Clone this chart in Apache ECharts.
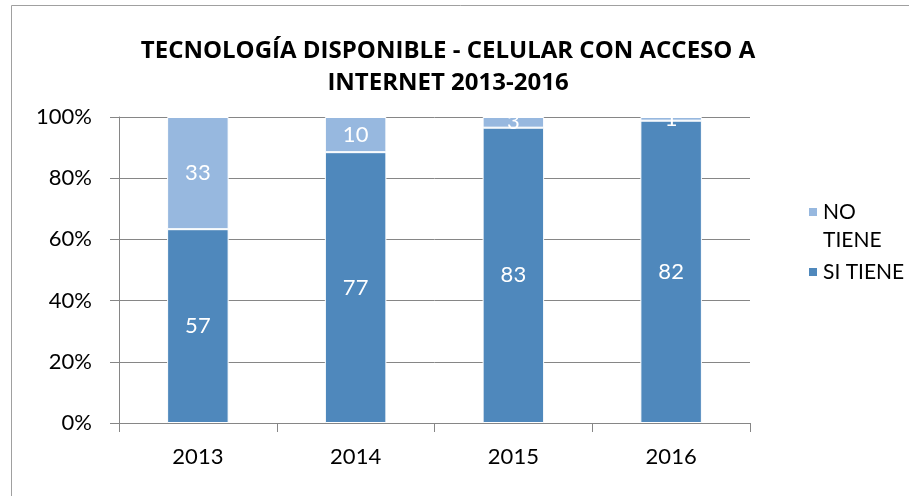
<!DOCTYPE html>
<html>
<head>
<meta charset="utf-8">
<script src="https://cdn.jsdelivr.net/npm/echarts@6/dist/echarts.min.js"></script>
<style>
  html, body { margin: 0; padding: 0; background: #fff; }
  #chart { width: 909px; height: 496px; }
</style>
</head>
<body>
<div id="chart"></div>
<script>
// datos
const years = ['2013', '2014', '2015', '2016']
const siTiene = [57, 77, 83, 82]
const noTiene = [33, 10, 3, 1]
const yTicks = [0, 20, 40, 60, 80, 100]

// porcentaje por año (100% apilado)
const totals = years.map((y, i) => siTiene[i] + noTiene[i])
const pct = (arr) => arr.map((v, i) => ({ value: v / totals[i] * 100, raw: v }))

const font = 'Lato, "Open Sans", sans-serif'
const chart = echarts.init(document.getElementById('chart'))

const option = {
  animation: false,
  title: {
    text: 'TECNOLOGÍA DISPONIBLE - CELULAR CON ACCESO A\nINTERNET 2013-2016',
    left: 443,
    textAlign: 'center',
    top: 30,
    textStyle: {
      fontFamily: '"Open Sans", sans-serif',
      fontWeight: 'bold',
      fontSize: 24,
      lineHeight: 32,
      color: '#000'
    }
  },
  legend: {
    orient: 'vertical',
    left: 802,
    top: 165,
    itemWidth: 10,
    itemHeight: 10,
    itemGap: 4,
    icon: 'rect',
    data: ['NO TIENE', 'SI TIENE'],
    // "NO TIENE" en dos líneas; la línea vacía arriba deja el cuadro junto a "NO"
    formatter: (name) => name === 'NO TIENE' ? ' \nNO\nTIENE' : name,
    textStyle: { fontFamily: font, fontSize: 21, lineHeight: 28, color: '#000' }
  },
  grid: { left: 119, right: 159, top: 117, bottom: 73 },
  xAxis: {
    type: 'category',
    data: years,
    axisLine: { lineStyle: { color: '#868686', width: 1 } },
    axisTick: { show: true, length: 9, lineStyle: { color: '#868686' } },
    axisLabel: { fontFamily: font, fontSize: 22, color: '#000', margin: 23 }
  },
  yAxis: {
    type: 'value',
    min: yTicks[0],
    max: yTicks[yTicks.length - 1],
    interval: 20,
    axisLine: { show: true, lineStyle: { color: '#868686' } },
    axisTick: { show: true, length: 9, lineStyle: { color: '#868686' } },
    splitLine: { lineStyle: { color: '#868686', width: 1 } },
    axisLabel: { fontFamily: font, fontSize: 22, color: '#000', margin: 27, formatter: '{value}%' }
  },
  series: [
    {
      name: 'SI TIENE',
      type: 'bar',
      stack: 'total',
      barWidth: '39%',
      data: pct(siTiene),
      itemStyle: { color: '#4F88BC', borderColor: '#fff', borderWidth: 1 },
      label: {
        show: true,
        position: 'inside',
        color: '#fff',
        fontFamily: font,
        fontSize: 22,
        formatter: (p) => p.data.raw
      }
    },
    {
      name: 'NO TIENE',
      type: 'bar',
      stack: 'total',
      data: pct(noTiene),
      itemStyle: { color: '#97B8DF', borderColor: '#fff', borderWidth: 1 },
      label: {
        show: true,
        position: 'inside',
        color: '#fff',
        fontFamily: font,
        fontSize: 22,
        formatter: (p) => p.data.raw
      }
    }
  ],
  graphic: [
    {
      type: 'rect',
      shape: { x: 11.5, y: 5.5, width: 920, height: 520 },
      style: { fill: 'none', stroke: '#a0a0a0', lineWidth: 1 },
      silent: true
    }
  ]
}

chart.setOption(option)
</script>
</body>
</html>
